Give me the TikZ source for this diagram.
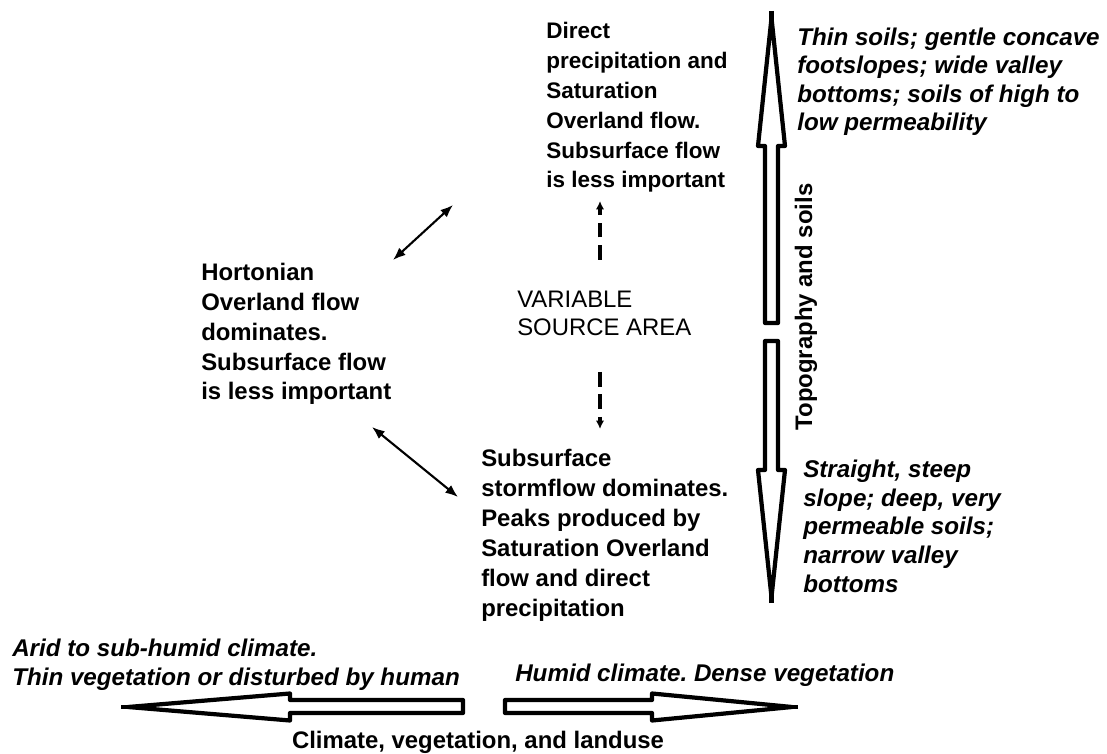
\documentclass[tikz,border=0pt]{standalone}
\usepackage{fontspec}
\setmainfont{Liberation Sans}
\usetikzlibrary{arrows.meta}
\frenchspacing
\begin{document}
\begin{tikzpicture}[x=0.025cm,y=-0.025cm,
 blk/.style={font=\fontsize{17}{21.3}\selectfont\bfseries, align=left, anchor=base west, inner sep=0pt},
 itx/.style={font=\fontsize{17.2}{20.3}\selectfont\bfseries\itshape, align=left, anchor=base west, inner sep=0pt},
 reg/.style={font=\fontsize{17}{20.6}\selectfont, align=left, anchor=base west, inner sep=0pt},
 bigarrow/.style={draw=black, fill=white, line width=3pt, line join=round},
 spike/.style={line width=3pt},
 dbl/.style={line width=1.5pt, {Latex[length=9pt,width=7pt]}-{Latex[length=9pt,width=7pt]}},
 dsh/.style={line width=2.2pt, dash pattern=on 10.5pt off 5.5pt, -{Latex[length=6pt,width=6pt]}}]
\useasboundingbox (0,0) rectangle (1107,754);

% text blocks (anchor = baseline of last line)
\node[blk, font=\fontsize{16}{21.3}\selectfont\bfseries] (direct) at (546,188) {Direct\\precipitation and\\Saturation\\Overland flow.\\Subsurface flow\\is less important};
\node[blk] (horton) at (201,400) {Hortonian\\Overland flow\\dominates.\\Subsurface flow\\is less important};
\node[reg] (vsa) at (517,336) {VARIABLE\\SOURCE AREA};
\node[blk] (storm) at (481,616) {Subsurface\\stormflow dominates.\\Peaks produced by\\Saturation Overland\\flow and direct\\precipitation};
\node[itx] (thin) at (797,131) {Thin soils; gentle concave\\footslopes; wide valley\\bottoms; soils of high to\\low permeability};
\node[itx] (steep) at (803,592) {Straight, steep\\slope; deep, very\\permeable soils;\\narrow valley\\bottoms};
\node[itx] (arid) at (12,685) {Arid to sub-humid climate.\\Thin vegetation or disturbed by human};
\node[itx] (humid) at (515,681) {Humid climate. Dense vegetation};
\node[font=\fontsize{17}{20}\selectfont\bfseries, anchor=base, inner sep=0pt] (clim) at (478,748) {Climate, vegetation, and landuse};
\node[font=\fontsize{17}{20}\selectfont\bfseries, rotate=90, inner sep=0pt] (topo) at (806,307) {Topography and soils};

% connectors
\coordinate (d1a) at (393,260);
\coordinate (d1b) at (453,205);
\coordinate (d2a) at (372,427);
\coordinate (d2b) at (458,497);
\draw[dbl] (d1a) -- (d1b);
\draw[dbl] (d2a) -- (d2b);
\coordinate (u0) at (600,260);
\coordinate (u1) at (600,201);
\coordinate (l0) at (600,372);
\coordinate (l1) at (600,429);
\draw[dsh] (u0) -- (u1);
\draw[dsh] (l0) -- (l1);

% big block arrows
\draw[bigarrow] (771.5,18) -- (785,146) -- (778,146) -- (778,323) -- (765,323) -- (765,146) -- (758,146) -- cycle;
\draw[spike] (771.5,11) -- (771.5,34);
\draw[bigarrow] (771.5,597) -- (785,470) -- (778,470) -- (778,341) -- (765,341) -- (765,470) -- (758,470) -- cycle;
\draw[spike] (771.5,603) -- (771.5,580);
\draw[bigarrow] (128,707) -- (290,693.5) -- (290,700) -- (463,700) -- (463,713) -- (290,713) -- (290,720.5) -- cycle;
\draw[spike] (121,707) -- (146,707);
\draw[bigarrow] (792,707) -- (652,693.5) -- (652,700) -- (505,700) -- (505,713) -- (652,713) -- (652,720.5) -- cycle;
\draw[spike] (798,707) -- (775,707);
\end{tikzpicture}
\end{document}
